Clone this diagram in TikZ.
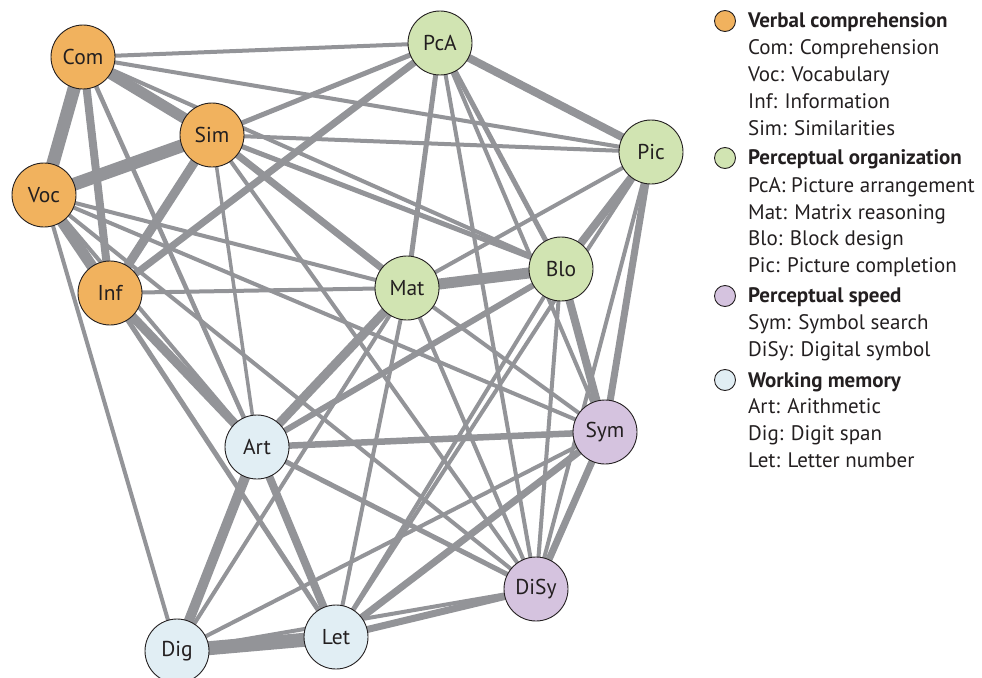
\documentclass[tikz,border=0pt]{standalone}
\usepackage{fontspec}
\setmainfont{PT Sans}
\pgfdeclarelayer{bg}
\pgfsetlayers{bg,main}
\definecolor{vcol}{HTML}{F1B25E}
\definecolor{pocol}{HTML}{D1E4B2}
\definecolor{pscol}{HTML}{D5C3DF}
\definecolor{wmcol}{HTML}{E1EEF4}
\definecolor{edgecol}{HTML}{939498}
\definecolor{ink}{HTML}{231F20}
\newcommand\edgeline[3]{\draw[edgecol, line width=#3pt] (#1.center) -- (#2.center);}
\begin{document}
\begin{tikzpicture}[x=1pt,y=-1pt,
  var/.style={circle, draw=ink, line width=0.9pt, minimum size=64pt, inner sep=0pt,
              font=\fontsize{21.5}{21.5}\selectfont, text=ink},
  vc/.style={var, fill=vcol}, po/.style={var, fill=pocol},
  ps/.style={var, fill=pscol}, wm/.style={var, fill=wmcol},
  legdot/.style={circle, draw=ink, line width=0.9pt, minimum size=21pt, inner sep=0pt},
  legtxt/.style={anchor=base west, inner sep=0pt, text=ink, font=\fontsize{21}{21}\selectfont},
  leghead/.style={legtxt, font=\fontsize{21}{21}\selectfont\bfseries}]
\useasboundingbox (0,0) rectangle (982,677);
% nodes
\node[vc] (Com) at (83,57) {Com};
\node[vc] (Sim) at (212,135) {Sim};
\node[vc] (Voc) at (44,195) {Voc};
\node[vc] (Inf) at (110,293) {Inf};
\node[po] (PcA) at (440,43) {PcA};
\node[po] (Pic) at (651,152) {Pic};
\node[po] (Mat) at (407,288) {Mat};
\node[po] (Blo) at (561,269) {Blo};
\node[wm] (Art) at (257,447) {Art};
\node[ps] (Sym) at (605,432) {Sym};
\node[ps] (DiSy) at (536,589) {DiSy};
\node[wm] (Dig) at (177,651) {Dig};
\node[wm] (Let) at (336,637) {Let};
% edges
\begin{pgfonlayer}{bg}
\edgeline{Com}{Sim}{11}
\edgeline{Com}{Voc}{13}
\edgeline{Com}{Inf}{8}
\edgeline{Com}{PcA}{4}
\edgeline{Com}{Pic}{4}
\edgeline{Com}{Art}{4.5}
\edgeline{Com}{Blo}{4}
\edgeline{Sim}{Voc}{13}
\edgeline{Sim}{Inf}{9}
\edgeline{Sim}{PcA}{5}
\edgeline{Sim}{Pic}{4}
\edgeline{Sim}{Blo}{5}
\edgeline{Sim}{Mat}{7}
\edgeline{Sim}{Art}{3.5}
\edgeline{Sim}{DiSy}{4}
\edgeline{Voc}{Inf}{11}
\edgeline{Voc}{Mat}{4}
\edgeline{Voc}{Sym}{4}
\edgeline{Voc}{DiSy}{4}
\edgeline{Voc}{Dig}{4}
\edgeline{Voc}{Art}{4}
\edgeline{Inf}{PcA}{7}
\edgeline{Inf}{Mat}{4}
\edgeline{Inf}{Art}{9}
\edgeline{Inf}{Let}{5}
\edgeline{PcA}{Pic}{8}
\edgeline{PcA}{Mat}{5}
\edgeline{PcA}{Blo}{5}
\edgeline{PcA}{Sym}{4}
\edgeline{PcA}{DiSy}{4}
\edgeline{Pic}{Mat}{4}
\edgeline{Pic}{Blo}{8}
\edgeline{Pic}{Sym}{7}
\edgeline{Pic}{DiSy}{4}
\edgeline{Pic}{Let}{4}
\edgeline{Mat}{Blo}{11}
\edgeline{Mat}{Art}{9}
\edgeline{Mat}{Sym}{4}
\edgeline{Mat}{DiSy}{4}
\edgeline{Mat}{Dig}{4}
\edgeline{Mat}{Let}{4}
\edgeline{Blo}{Art}{6}
\edgeline{Blo}{Sym}{8}
\edgeline{Blo}{DiSy}{4}
\edgeline{Blo}{Let}{4}
\edgeline{Art}{Sym}{6.5}
\edgeline{Art}{DiSy}{5}
\edgeline{Art}{Dig}{10}
\edgeline{Art}{Let}{8}
\edgeline{Sym}{DiSy}{7}
\edgeline{Sym}{Dig}{4}
\edgeline{Sym}{Let}{7}
\edgeline{DiSy}{Let}{7}
\edgeline{DiSy}{Dig}{4}
\edgeline{Dig}{Let}{14}
\end{pgfonlayer}
% legend
\node[legdot, fill=vcol] (d1) at (725,21) {};
\node[legdot, fill=pocol] (d2) at (725,158) {};
\node[legdot, fill=pscol] (d3) at (725,296) {};
\node[legdot, fill=wmcol] (d4) at (725,380) {};
\node[leghead] (h1) at (748,27.5) {Verbal comprehension};
\node[legtxt] (t1) at (748,55) {Com: Comprehension};
\node[legtxt] (t2) at (748,81.5) {Voc: Vocabulary};
\node[legtxt] (t3) at (748,108.5) {Inf: Information};
\node[legtxt] (t4) at (748,135) {Sim: Similarities};
\node[leghead] (h2) at (748,164.5) {Perceptual organization};
\node[legtxt] (t5) at (748,192.5) {PcA: Picture arrangement};
\node[legtxt] (t6) at (748,219) {Mat: Matrix reasoning};
\node[legtxt] (t7) at (748,245.5) {Blo: Block design};
\node[legtxt] (t8) at (748,272) {Pic: Picture completion};
\node[leghead] (h3) at (748,302) {Perceptual speed};
\node[legtxt] (t9) at (748,329.5) {Sym: Symbol search};
\node[legtxt] (t10) at (748,356) {DiSy: Digital symbol};
\node[leghead] (h4) at (748,387) {Working memory};
\node[legtxt] (t11) at (748,413.5) {Art: Arithmetic};
\node[legtxt] (t12) at (748,440) {Dig: Digit span};
\node[legtxt] (t13) at (748,467) {Let: Letter number};
\end{tikzpicture}
\end{document}
